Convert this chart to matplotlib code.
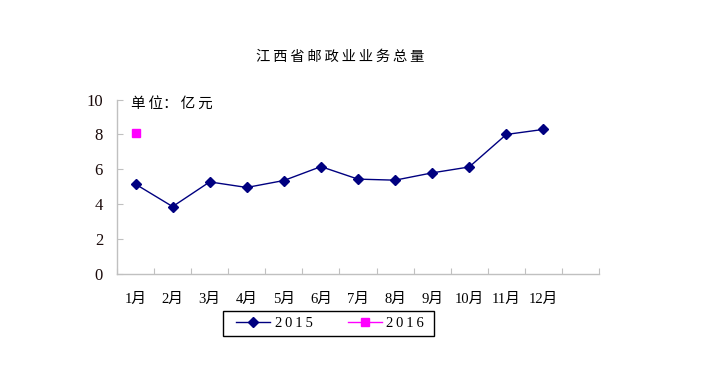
import matplotlib
matplotlib.use("Agg")
import matplotlib.pyplot as plt
from matplotlib.lines import Line2D
from matplotlib.patches import Rectangle

months = ["1月", "2月", "3月", "4月", "5月", "6月", "7月", "8月", "9月", "10月", "11月", "12月"]
values_2015 = [5.14, 3.85, 5.27, 4.95, 5.35, 6.15, 5.43, 5.37, 5.79, 6.13, 8.0, 8.29]
values_2016 = [8.07]
series_names = ["2015", "2016"]
yticks = [0, 2, 4, 6, 8, 10]
title = "江西省邮政业业务总量"
unit_text = "单位：亿元"

W, H = 702, 370
fig = plt.figure(figsize=(W/100, H/100), dpi=100)
ax = fig.add_axes([117/W, 1-273.5/H, (599-117)/W, (273.5-99.7)/H])

serif_cjk = ["Liberation Serif", "Noto Sans CJK SC"]
navy = "#000080"
magenta = "#FF00FF"

x15 = list(range(len(values_2015)))
x16 = list(range(len(values_2016)))
ax.plot(x15, values_2015, color=navy, lw=1.0, marker="D", markersize=5.5, markerfacecolor=navy,
        markeredgecolor=navy)
ax.plot(x16, values_2016, color=magenta, lw=1.0, marker="s", markersize=5.5,
        markerfacecolor=magenta, markeredgecolor=magenta)

ax.set_xlim(-0.5, 12.5)
ax.set_ylim(0, 10)
ax.set_yticks(yticks)
ax.set_yticklabels([str(v) for v in yticks], family=serif_cjk, fontsize=12, color="#1a0a0a")
ax.set_xticks([i - 0.5 for i in range(14)])
ax.set_xticklabels([])
ax.set_xticks(range(len(months)), minor=True)
ax.set_xticklabels(months, minor=True, family=serif_cjk, fontsize=10.5)
ax.tick_params(axis="x", which="minor", length=0, pad=14)
ax.tick_params(axis="x", which="major", direction="in", length=4, color="#c0c0c0")
ax.tick_params(axis="y", direction="in", length=4, color="#c0c0c0", pad=10)

for s in ["top", "right"]:
    ax.spines[s].set_visible(False)
for s in ["left", "bottom"]:
    ax.spines[s].set_color("#c0c0c0")
    ax.spines[s].set_linewidth(1.0)

fig.text(340/W, 1-57/H, "\u2009".join(title), ha="center", va="center",
         family=["Noto Sans CJK SC", "DejaVu Sans"], fontsize=10.3)
fig.text(131/W, 1-104/H, "单\u2009位：\u2009亿\u2009元", ha="left", va="center",
         family=["Noto Sans CJK SC", "DejaVu Sans"], fontsize=10.5)

# legend box
fig.add_artist(Rectangle((223/W, 1-336/H), (434-223)/W, 25/H, transform=fig.transFigure,
                         facecolor="white", edgecolor="black", lw=1.0, zorder=1))
handles = [Line2D([], [], color=navy, lw=1.0, marker="D", markersize=5.5, markerfacecolor=navy),
           Line2D([], [], color=magenta, lw=1.0, marker="s", markersize=5.5, markerfacecolor=magenta)]
labels = ["\u2009".join(n) for n in series_names]
leg = fig.legend(handles, labels, loc="center", bbox_to_anchor=(330/W, 1-323.5/H),
                 ncol=2, frameon=False,
                 prop={"family": "Liberation Serif", "size": 10.5}, handlelength=2.33,
                 columnspacing=2.4, handletextpad=0.3, borderpad=0.2)
leg.set_zorder(2)

fig.savefig("out.png", dpi=100)
